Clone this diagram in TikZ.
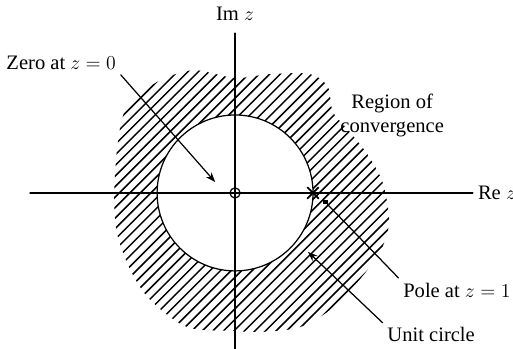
\documentclass[tikz,border=0pt]{standalone}
\usepackage{fontspec}
\setmainfont{Liberation Serif}
\usetikzlibrary{arrows.meta,shapes.misc}

\begin{document}
\begin{tikzpicture}[>={Stealth[length=2.5mm]},font=\fontsize{15}{18}\selectfont,line cap=round,
  axis/.style={line width=0.9pt},
  hatchline/.style={line width=1.1pt},
  leader/.style={line width=0.9pt}]
\useasboundingbox (-6.03,-4.0) rectangle (7.13,4.95);
% region of convergence
\begin{scope}
\clip plot[smooth cycle] coordinates {(0,2.95) (0.9,3.05) (1.92,3.05) (2.38,2.72) (2.51,2.08)
  (2.95,1.56) (3.41,0.97) (3.79,0.26) (3.95,-0.74) (3.72,-1.51) (3.08,-2.36) (2.44,-3.0)
  (1.67,-3.44) (0.77,-3.56) (-0.05,-3.54) (-1.23,-3.44) (-2.18,-2.74) (-2.69,-1.97)
  (-3.03,-1.03) (-3.1,-0.05) (-3.03,1.1) (-2.85,2.05) (-2.38,2.59) (-1.79,2.95) (-1.03,3.15)};
\foreach \k in {-45,...,45}
  \draw[hatchline] ({\k*0.27-5},-5) -- ++(10,10);
\end{scope}
\fill[white] (0,0) circle (2);
\draw[axis] (0,0) circle (2);
% axes
\draw[axis] (-5.26,0) -- (6.1,0) node[right] (re) {Re $z$};
\draw[axis] (0,-4.1) -- (0,4.1);
\node (im) at (0,4.59) {Im $z$};
% zero and pole
\node[draw,circle,axis,minimum size=0.26cm,inner sep=0] (zero) at (0,0) {};
\node[draw,cross out,line width=1.3pt,minimum size=0.24cm,inner sep=0] (pole) at (2,0) {};
\node[fill,minimum size=3.5pt,inner sep=0] (polesq) at (2.31,-0.23) {};
% labels
\node (zerolbl) at (-4.46,3.33) {Zero at $z=0$};
\node (roc) at (4.03,1.99) [align=center] {Region of\\convergence};
\node (polelbl) at (5.69,-2.49) {Pole at $z=1$};
\node (unitlbl) at (5.03,-3.64) {Unit circle};
\coordinate (zerotip) at (-0.51,0.28);
\coordinate (unittip) at (1.87,-1.51);
\draw[leader,->] (zerolbl.south east) -- (zerotip);
\draw[leader] (polelbl.north west) -- (polesq);
\draw[leader,->] (unitlbl.north west) -- (unittip);
\end{tikzpicture}
\end{document}
